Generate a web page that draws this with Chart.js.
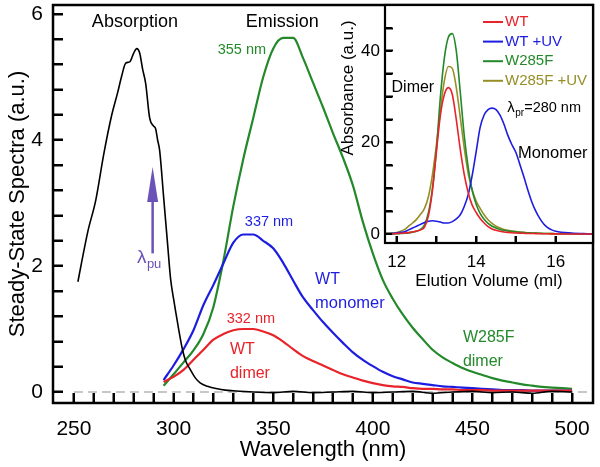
<!DOCTYPE html>
<html lang="en">
<head>
<meta charset="UTF-8">
<title>Steady-State Spectra</title>
<script src="https://cdn.jsdelivr.net/npm/chart.js"></script>
<style>
    body { margin: 0; background: #fff; }
    .quadro { position: relative; width: 600px; height: 467px; background: #fff; }
    #grafico { position: absolute; left: 0; top: 0; }
    #inset { position: absolute; left: 330px; top: 0; }
    #marcas { position: absolute; left: 0; top: 0; pointer-events: none; }
</style>
</head>
<body>
<div class="quadro">
    <canvas id="grafico" width="600" height="467"></canvas>
    <canvas id="inset" width="270" height="300"></canvas>
    <canvas id="marcas" width="600" height="467"></canvas>
</div>

<script>
    // ---------- dados: espectros ----------
    const absWl = [252, 254, 257, 261, 265, 269, 272, 274, 276, 278, 280, 281.5, 283, 284.5, 286, 288, 290, 291, 292, 293,
        295, 297, 298.5, 300, 302, 304.5, 306, 308.5, 311, 313.5, 317, 322, 326, 330, 340, 350, 360, 370, 380, 390,
        400, 410, 420, 430, 440, 450, 460, 470, 480, 490, 500];
    const absorcao = [1.75, 2.08, 2.55, 3.05, 3.78, 4.40, 4.76, 5.02, 5.22, 5.24, 5.38, 5.45, 5.38, 5.12, 4.90, 4.35, 4.22, 4.18, 4.00, 3.84,
        3.10, 2.35, 1.80, 1.48, 1.10, 0.67, 0.50, 0.35, 0.22, 0.14, 0.09, 0.05, 0.03, 0.02, 0.00, -0.01, 0.01, -0.01, 0.00, 0.01,
        -0.01, 0.00, 0.01, -0.02, 0.00, 0.01, -0.01, 0.00, -0.02, 0.01, 0.00];

    const emWl = [295, 300, 305, 310, 315, 320, 325, 330, 335, 340, 345, 350, 355, 360, 365, 370, 375, 380, 385, 390,
        395, 400, 405, 410, 415, 420, 425, 430, 435, 440, 445, 450, 455, 460, 465, 470, 475, 480, 485, 490, 495, 500];
    const wtDimer = [0.16, 0.24, 0.35, 0.51, 0.67, 0.83, 0.92, 0.98, 1.00, 1.00, 0.96, 0.90, 0.80, 0.68, 0.57, 0.49, 0.42, 0.35, 0.28, 0.23,
        0.18, 0.14, 0.11, 0.09, 0.08, 0.06, 0.05, 0.05, 0.04, 0.04, 0.03, 0.03, 0.03, 0.02, 0.02, 0.02, 0.02, 0.02, 0.02, 0.02, 0.02, 0.02];
    const wtMonomer = [0.19, 0.42, 0.68, 0.98, 1.38, 1.70, 2.04, 2.37, 2.50, 2.50, 2.40, 2.28, 2.05, 1.77, 1.50, 1.30, 1.11, 0.94, 0.78, 0.63,
        0.51, 0.41, 0.32, 0.25, 0.20, 0.15, 0.13, 0.11, 0.09, 0.08, 0.07, 0.06, 0.05, 0.04, 0.03, 0.03, 0.03, 0.02, 0.02, 0.02, 0.02, 0.02];
    const w285fDimer = [0.10, 0.28, 0.47, 0.66, 0.92, 1.35, 2.08, 2.95, 3.70, 4.35, 5.00, 5.45, 5.62, 5.62, 5.30, 4.91, 4.52, 4.11, 3.72, 3.28,
        2.70, 2.20, 1.78, 1.48, 1.23, 1.02, 0.84, 0.67, 0.55, 0.46, 0.38, 0.32, 0.27, 0.22, 0.18, 0.15, 0.12, 0.10, 0.08, 0.07, 0.06, 0.05];
    const linhaZero = [250, 508];

    const xTicks = [250, 300, 350, 400, 450, 500];
    const yTicks = [0, 2, 4, 6];

    // ---------- dados: inset (cromatografia) ----------
    const elution = [11.6, 11.8, 12.0, 12.1, 12.2, 12.3, 12.4, 12.5, 12.6, 12.7, 12.8, 12.9, 13.0, 13.1, 13.2, 13.3, 13.4, 13.5, 13.6, 13.7,
        13.8, 13.9, 14.0, 14.1, 14.2, 14.3, 14.4, 14.5, 14.6, 14.7, 14.8, 14.9, 15.0, 15.1, 15.2, 15.3, 15.4, 15.5, 15.6, 15.7,
        15.8, 15.9, 16.0, 16.4, 16.8, 17.0];
    const absWT = [0, 0, 0.1, 0.15, 0.2, 0.3, 0.45, 0.65, 0.9, 1.5, 4.0, 9.5, 18, 26, 30.5, 32, 30.5, 25, 18.5, 13,
        9, 6.3, 4.7, 3.4, 2.4, 1.6, 1.1, 0.8, 0.6, 0.45, 0.35, 0.28, 0.22, 0.18, 0.15, 0.12, 0.1, 0.08, 0.06, 0.05,
        0.04, 0.03, 0.02, 0.01, 0, 0];
    const absWTuv = [0, 0.05, 0.2, 0.35, 0.5, 0.9, 1.3, 1.7, 2.1, 2.5, 2.8, 2.9, 2.8, 2.6, 2.4, 2.4, 2.7, 3.3, 4.2, 6.0,
        8.6, 12.8, 18, 23.3, 26, 27.2, 27.5, 27.2, 26, 24, 21.5, 19.5, 17.8, 15.2, 12.5, 9.6, 7.0, 5.0, 3.4, 2.2,
        1.4, 0.9, 0.6, 0.2, 0.05, 0];
    const absW285F = [0, 0, 0.05, 0.1, 0.15, 0.25, 0.4, 0.6, 1.0, 2.0, 4.7, 10, 18.5, 30, 38.5, 43, 43.8, 40, 31, 21.5,
        14.5, 9.5, 6.5, 4.5, 3.2, 2.3, 1.7, 1.3, 1.0, 0.8, 0.65, 0.55, 0.45, 0.38, 0.32, 0.27, 0.22, 0.18, 0.15, 0.12,
        0.1, 0.08, 0.06, 0.03, 0.01, 0];
    const absW285Fuv = [0, 0.1, 0.3, 0.6, 1.0, 1.7, 2.4, 3.2, 4.3, 5.6, 8.2, 13, 19.5, 27, 33.5, 36.6, 36.2, 32, 25.5, 18.8,
        13.2, 9.6, 7.2, 5.6, 4.2, 3.1, 2.3, 1.7, 1.3, 1.0, 0.8, 0.65, 0.52, 0.42, 0.35, 0.28, 0.23, 0.19, 0.15, 0.12,
        0.1, 0.08, 0.06, 0.03, 0.01, 0];
    const insetNomes = ['WT', 'WT +UV', 'W285F', 'W285F +UV'];

    const insetXTicks = [12, 14, 16];
    const insetYTicks = [0, 20, 40];

    // ---------- cores ----------
    const vermelho = '#e8232a';
    const azul = '#1d1de0';
    const verde = '#23892a';
    const oliva = '#968f28';
    const roxo = '#6a52b6';
    const fonte = "'Liberation Sans', Arial, sans-serif";

    Chart.defaults.font.family = fonte;
    Chart.defaults.color = '#000';

    function pontos(xs, ys) {
        return xs.map((x, i) => ({ x: x, y: ys[i] }));
    }

    function semPadding(s) {
        s.paddingTop = 0; s.paddingBottom = 0; s.paddingLeft = 0; s.paddingRight = 0;
    }

    // posicoes dos ticks (maiores e menores)
    function passos(a, b, p) {
        var v = [];
        for (var t = a; t <= b + 1e-9; t += p) v.push(Math.round(t * 1000) / 1000);
        return v;
    }

    function texto(ctx, str, x, y, tam, cor, al) {
        ctx.font = tam + 'px ' + fonte;
        ctx.fillStyle = cor;
        ctx.textAlign = al || 'center';
        ctx.textBaseline = 'middle';
        ctx.fillText(str, x, y);
    }

    // grade so com ticks para dentro (tickLength negativo)
    function gradeDentro(tam) {
        return { display: true, drawOnChartArea: false, drawTicks: true, tickLength: -tam, tickWidth: 2, tickColor: '#000' };
    }

    function moldura(chart, larg) {
        var a = chart.chartArea, ctx = chart.ctx;
        ctx.save();
        ctx.strokeStyle = '#000';
        ctx.lineWidth = larg;
        ctx.strokeRect(a.left, a.top, a.right - a.left, a.bottom - a.top);
        ctx.restore();
    }

    // rotulos do grafico principal (coordenadas em dados)
    const rotulos = [
        { t: 'Absorption', x: 280.6, y: 5.87, cor: '#000', tam: 18, al: 'center' },
        { t: 'Emission', x: 354.5, y: 5.87, cor: '#000', tam: 18, al: 'center' },
        { t: '355 nm', x: 334.3, y: 5.43, cor: verde, tam: 14.5, al: 'center' },
        { t: '337 nm', x: 347.9, y: 2.70, cor: azul, tam: 14.5, al: 'center' },
        { t: '332 nm', x: 338.8, y: 1.16, cor: vermelho, tam: 14.5, al: 'center' },
        { t: 'WT', x: 328.3, y: 0.67, cor: vermelho, tam: 16, al: 'left' },
        { t: 'dimer', x: 328.3, y: 0.29, cor: vermelho, tam: 16, al: 'left' },
        { t: 'WT', x: 371, y: 1.78, cor: azul, tam: 16, al: 'left' },
        { t: 'monomer', x: 371, y: 1.40, cor: azul, tam: 16.5, al: 'left' },
        { t: 'W285F', x: 445.2, y: 0.87, cor: verde, tam: 16, al: 'left' },
        { t: 'dimer', x: 445.2, y: 0.48, cor: verde, tam: 16, al: 'left' }
    ];

    const extrasPrincipal = {
        id: 'extrasPrincipal',
        afterDraw(chart) {
            var ctx = chart.ctx, sx = chart.scales.x, sy = chart.scales.y;
            moldura(chart, 2.5);

            rotulos.forEach(r => texto(ctx, r.t, sx.getPixelForValue(r.x), sy.getPixelForValue(r.y), r.tam, r.cor, r.al));

            // seta lambda_pu
            var ax = sx.getPixelForValue(289.5);
            var topo = sy.getPixelForValue(3.57), base = sy.getPixelForValue(2.2);
            ctx.save();
            ctx.strokeStyle = roxo;
            ctx.fillStyle = roxo;
            ctx.lineWidth = 2.5;
            ctx.beginPath();
            ctx.moveTo(ax, base);
            ctx.lineTo(ax, topo + 30);
            ctx.stroke();
            ctx.beginPath();
            ctx.moveTo(ax, topo);
            ctx.lineTo(ax - 5.5, topo + 35);
            ctx.lineTo(ax + 5.5, topo + 35);
            ctx.closePath();
            ctx.fill();
            ctx.restore();
            var lx = sx.getPixelForValue(281.6), ly = sy.getPixelForValue(2.13);
            texto(ctx, 'λ', lx, ly, 19, roxo, 'left');
            texto(ctx, 'pu', lx + 10, ly + 7, 13, roxo, 'left');
        }
    };

    var principal = new Chart(document.getElementById('grafico'), {
        type: 'line',
        data: {
            datasets: [
                { label: 'Absorption', data: pontos(absWl, absorcao), borderColor: '#000', borderWidth: 1.6 },
                { label: 'WT dimer', data: pontos(emWl, wtDimer), borderColor: vermelho, borderWidth: 2.2 },
                { label: 'WT monomer', data: pontos(emWl, wtMonomer), borderColor: azul, borderWidth: 2.2 },
                { label: 'W285F dimer', data: pontos(emWl, w285fDimer), borderColor: verde, borderWidth: 2.2 },
                { label: 'zero', data: pontos(linhaZero, [0, 0]), borderColor: '#b5b5b5', borderWidth: 1.5, borderDash: [9, 5], cubicInterpolationMode: 'default' }
            ]
        },
        options: {
            responsive: false,
            animation: false,
            layout: { padding: { top: 5, right: 7, left: 0, bottom: 0 } },
            elements: { point: { radius: 0 }, line: { cubicInterpolationMode: 'monotone', fill: false } },
            plugins: { legend: { display: false }, tooltip: { enabled: false } },
            scales: {
                x: {
                    type: 'linear', min: 239.5, max: 510.5,
                    grid: gradeDentro(10), border: { display: false },
                    afterBuildTicks: s => { s.ticks = passos(250, 500, 10).map(v => ({ value: v })); },
                    afterFit: s => { s.height = 64; semPadding(s); },
                    ticks: { font: { size: 21 }, padding: 24, color: '#000', maxRotation: 0, autoSkip: false,
                        callback: v => xTicks.includes(v) ? String(v) : '' },
                    title: { display: true, text: 'Wavelength (nm)', font: { size: 22 }, color: '#000', padding: { top: 0, bottom: 4 } }
                },
                y: {
                    type: 'linear', min: -0.175, max: 6.143,
                    grid: gradeDentro(10), border: { display: false },
                    afterBuildTicks: s => { s.ticks = passos(0, 6, 0.4).map(v => ({ value: v })); },
                    afterFit: s => { s.width = 53; semPadding(s); },
                    ticks: { font: { size: 21 }, padding: 20, color: '#000', autoSkip: false,
                        callback: v => yTicks.includes(v) ? String(v) : '' },
                    title: { display: true, text: 'Steady-State Spectra (a.u.)', font: { size: 22 }, color: '#000', padding: { top: 5, bottom: 0 } }
                }
            }
        },
        plugins: [extrasPrincipal]
    });

    // ---------- inset ----------
    const extrasInset = {
        id: 'extrasInset',
        beforeDraw(chart) {
            var ctx = chart.ctx, a = chart.chartArea;
            ctx.save();
            ctx.fillStyle = '#fff';
            ctx.fillRect(a.left, a.top, a.right - a.left, a.bottom - a.top);
            ctx.restore();
        },
        afterDraw(chart) {
            var ctx = chart.ctx, a = chart.chartArea, sx = chart.scales.x, sy = chart.scales.y;
            moldura(chart, 2.2);

            // legenda
            chart.data.datasets.forEach((d, i) => {
                var y = a.top + 17 + i * 19.6;
                ctx.save();
                ctx.strokeStyle = d.borderColor;
                ctx.lineWidth = 2;
                ctx.beginPath();
                ctx.moveTo(a.left + 98, y);
                ctx.lineTo(a.left + 118, y);
                ctx.stroke();
                ctx.restore();
                texto(ctx, d.label, a.left + 120, y, 15, d.borderColor, 'left');
            });

            texto(ctx, 'Dimer', sx.getPixelForValue(11.87), sy.getPixelForValue(31.9), 16, '#000', 'left');
            texto(ctx, 'Monomer', sx.getPixelForValue(15.05), sy.getPixelForValue(17.7), 16.5, '#000', 'left');
            var lx = sx.getPixelForValue(14.78), ly = sy.getPixelForValue(27.5);
            texto(ctx, 'λ', lx, ly, 15, '#000', 'left');
            texto(ctx, 'pr', lx + 8, ly + 5, 10, '#000', 'left');
            texto(ctx, '=280 nm', lx + 17, ly, 14.5, '#000', 'left');

            // titulo do eixo y do inset
            ctx.save();
            ctx.translate(a.left - 37, a.top + 83);
            ctx.rotate(-Math.PI / 2);
            texto(ctx, 'Absorbance (a.u.)', 0, 0, 17, '#000', 'center');
            ctx.restore();
        }
    };

    var inset = new Chart(document.getElementById('inset'), {
        type: 'line',
        data: {
            datasets: [
                { label: insetNomes[0], data: pontos(elution, absWT), borderColor: vermelho },
                { label: insetNomes[1], data: pontos(elution, absWTuv), borderColor: azul },
                { label: insetNomes[2], data: pontos(elution, absW285F), borderColor: verde },
                { label: insetNomes[3], data: pontos(elution, absW285Fuv), borderColor: oliva }
            ]
        },
        options: {
            responsive: false,
            animation: false,
            layout: { padding: { top: 5, right: 7, left: 10, bottom: 4 } },
            elements: { point: { radius: 0 }, line: { cubicInterpolationMode: 'monotone', fill: false, borderWidth: 1.6 } },
            plugins: { legend: { display: false }, tooltip: { enabled: false } },
            scales: {
                x: {
                    type: 'linear', min: 11.706, max: 16.94,
                    grid: gradeDentro(7), border: { display: false },
                    afterBuildTicks: s => { s.ticks = passos(12, 16, 1).map(v => ({ value: v })); },
                    afterFit: s => { s.height = 53; semPadding(s); },
                    ticks: { font: { size: 17 }, padding: 16, color: '#000', maxRotation: 0, autoSkip: false,
                        callback: v => insetXTicks.includes(v) ? String(v) : '' },
                    title: { display: true, text: 'Elution Volume (ml)', font: { size: 17 }, color: '#000', padding: { top: 0, bottom: 4 } }
                },
                y: {
                    type: 'linear', min: -1.97, max: 50.05,
                    grid: gradeDentro(8), border: { display: false },
                    afterBuildTicks: s => { s.ticks = passos(0, 45, 5).map(v => ({ value: v })); },
                    afterFit: s => { s.width = 45; semPadding(s); },
                    ticks: { font: { size: 17 }, padding: 13, color: '#000', autoSkip: false,
                        callback: v => insetYTicks.includes(v) ? String(v) : '' }
                }
            }
        },
        plugins: [extrasInset]
    });

    // ---------- ticks para dentro numa camada propria, a partir das escalas ----------
    function marcas(ctx, chart, dx, tx, ty, tam) {
        var sx = chart.scales.x, sy = chart.scales.y, a = chart.chartArea;
        ctx.fillStyle = '#000';
        tx.forEach(v => {
            var p = Math.round(sx.getPixelForValue(v)) + dx;
            ctx.fillRect(p - 1, a.bottom - tam, 2, tam);
        });
        ty.forEach(v => {
            var p = Math.round(sy.getPixelForValue(v));
            ctx.fillRect(a.left + dx, p - 1, tam, 2);
        });
    }

    var camada = document.getElementById('marcas').getContext('2d');
    marcas(camada, principal, 0, passos(250, 500, 10), passos(0, 6, 0.4), 10);
    marcas(camada, inset, 330, passos(12, 16, 1), passos(0, 45, 5), 7);
</script>
</body>
</html>
